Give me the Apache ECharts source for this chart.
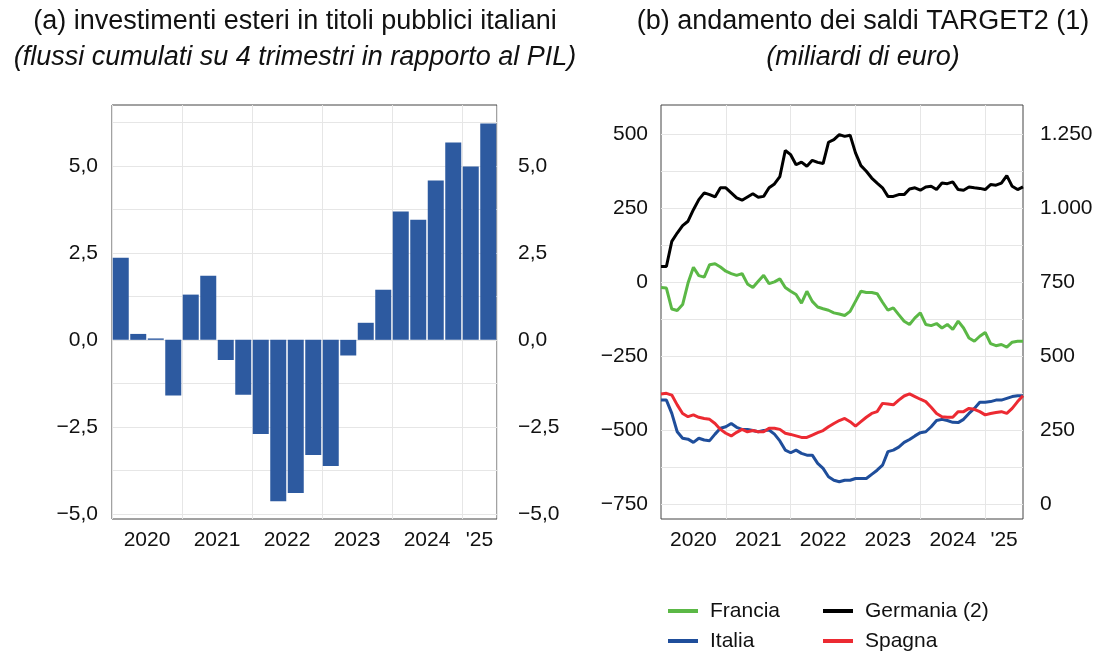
<!DOCTYPE html>
<html>
<head>
<meta charset="utf-8">
<script src="https://cdn.jsdelivr.net/npm/echarts@6/dist/echarts.min.js"></script>
<style>
  html, body { margin: 0; padding: 0; background: #fff; }
  #chart { width: 1093px; height: 651px; }
</style>
</head>
<body>
<div id="chart"></div>
<script>
// (a) investimenti esteri, trimestrale 2020Q1 - 2025Q2
const quarters = [
  '2020Q1', '2020Q2', '2020Q3', '2020Q4', '2021Q1', '2021Q2', '2021Q3', '2021Q4',
  '2022Q1', '2022Q2', '2022Q3', '2022Q4', '2023Q1', '2023Q2', '2023Q3', '2023Q4',
  '2024Q1', '2024Q2', '2024Q3', '2024Q4', '2025Q1', '2025Q2'
];
const foreignInv = [
  2.36, 0.17, 0.04, -1.60, 1.30, 1.84, -0.58, -1.58,
  -2.71, -4.64, -4.40, -3.31, -3.63, -0.45, 0.49, 1.44,
  3.69, 3.45, 4.58, 5.67, 4.98, 6.22
];
const barLabelAt = ['2020Q2', '2021Q2', '2022Q2', '2023Q2', '2024Q2', '2025Q1'];
const barYearLabels = ['2020', '2021', '2022', '2023', '2024', "'25"];
const barGridVals = [-5, -3.75, -2.5, -1.25, 0, 1.25, 2.5, 3.75, 5, 6.25];
const barLabelVals = [-5, -2.5, 0, 2.5, 5];

// (b) saldi TARGET2, mensili, fine dic 2019 - fine lug 2025 (miliardi)
const t2Start = 2020;
const francia = [
  -17, -19, -90, -95, -75, -2, 51, 23, 18, 60, 63, 52, 38, 30, 24, 30, -5, -17, 4, 24, -4, 2, 12,
  -17, -30, -41, -70, -30, -64, -83, -89, -94, -103, -107, -112, -98, -64, -30, -34, -34, -38, -67, -94, -86, -109,
  -131, -142, -120, -103, -142, -146, -139, -154, -142, -159, -131, -154, -188, -199, -182, -169, -207, -214, -210, -219, -202, -199, -199
];
const germania = [
  804, 804, 889, 917, 942, 957, 996, 1030, 1053, 1047, 1039, 1070, 1070, 1053, 1036, 1028, 1039, 1050, 1038, 1041, 1070, 1083, 1108,
  1196, 1182, 1148, 1157, 1143, 1163, 1156, 1152, 1224, 1233, 1250, 1244, 1248, 1188, 1145, 1126, 1103, 1086, 1070, 1041, 1041, 1047,
  1047, 1066, 1070, 1062, 1073, 1075, 1064, 1086, 1084, 1090, 1064, 1062, 1073, 1070, 1068, 1064, 1081, 1079, 1086, 1111, 1075, 1064, 1073
];
const italia = [
  -398, -398, -443, -505, -527, -530, -541, -527, -533, -535, -513, -493, -488, -477, -490, -497, -497, -501, -505, -501, -499, -513, -536,
  -567, -576, -567, -578, -584, -584, -612, -629, -657, -669, -674, -669, -669, -663, -663, -663, -649, -635, -618, -572, -567, -557,
  -541, -531, -519, -508, -505, -488, -467, -463, -467, -473, -474, -463, -443, -426, -405, -405, -403, -398, -398, -392, -386, -383, -383
];
const spagna = [
  -377, -375, -381, -414, -443, -454, -448, -456, -460, -463, -477, -497, -510, -519, -507, -497, -505, -501, -505, -505, -493, -493, -497,
  -510, -514, -519, -524, -524, -516, -508, -501, -488, -477, -467, -460, -471, -486, -471, -456, -443, -437, -409, -411, -414, -398,
  -384, -377, -386, -395, -403, -422, -443, -454, -456, -456, -437, -437, -426, -429, -437, -448, -443, -440, -437, -443, -426, -403, -383
];
const t2Years = [2020, 2021, 2022, 2023, 2024, 2025];
const t2GridVals = [-750, -625, -500, -375, -250, -125, 0, 125, 250, 375, 500];
const t2LabelVals = [-750, -500, -250, 0, 250, 500];
const gerLabelVals = [0, 250, 500, 750, 1000, 1250];

const FONT = '"Liberation Sans", Arial, Helvetica, sans-serif';
const TXT = '#111';
const GRIDC = '#e6e6e6';
const FS = 21;
const TITLE_FS = 27;

const t2End = t2Start + (francia.length - 1) / 12;
const toPoints = arr => arr.map((v, i) => [t2Start + i / 12, v]);
const minus = s => s.replace('-', '\u2212');
const fmtBar = v => minus(v.toFixed(1).replace('.', ','));
const fmtThousands = v => String(v).replace(/\B(?=(\d{3})+(?!\d))/g, '.');

// label of each year centred on its visible span
const t2LabelPos = t2Years.map(y => (y + Math.min(y + 1, t2End)) / 2);

const labelStyle = { color: TXT, fontSize: FS, fontFamily: FONT };
const legendText = { fontFamily: FONT, fontSize: FS, color: TXT, lineHeight: 22, padding: [0, 0, 0, 7] };

const chart = echarts.init(document.getElementById('chart'));

const option = {
  animation: false,
  title: [
    {
      text: '(a) investimenti esteri in titoli pubblici italiani',
      subtext: '(flussi cumulati su 4 trimestri in rapporto al PIL)',
      left: 290, top: 3, textAlign: 'center', itemGap: 9,
      textStyle: { fontFamily: FONT, fontSize: TITLE_FS, fontWeight: 'normal', color: TXT },
      subtextStyle: { fontFamily: FONT, fontSize: TITLE_FS, fontStyle: 'italic', color: TXT }
    },
    {
      text: '(b) andamento dei saldi TARGET2 (1)',
      subtext: '(miliardi di euro)',
      left: 858, top: 3, textAlign: 'center', itemGap: 9,
      textStyle: { fontFamily: FONT, fontSize: TITLE_FS, fontWeight: 'normal', color: TXT },
      subtextStyle: { fontFamily: FONT, fontSize: TITLE_FS, fontStyle: 'italic', color: TXT }
    }
  ],
  legend: [
    {
      data: ['Francia', 'Italia'], orient: 'vertical', left: 668, top: 600, height: 80, padding: 0,
      icon: 'rect', itemWidth: 30, itemHeight: 4, itemGap: 8, textStyle: legendText
    },
    {
      data: ['Germania (2)', 'Spagna'], orient: 'vertical', left: 823, top: 600, height: 80, padding: 0,
      icon: 'rect', itemWidth: 30, itemHeight: 4, itemGap: 8, textStyle: legendText
    }
  ],
  grid: [
    { left: 112, right: 596, top: 105, bottom: 132, show: true, borderColor: '#444', borderWidth: 1, outerBoundsMode: 'none' },
    { left: 661, right: 70, top: 105, bottom: 132, show: true, borderColor: '#444', borderWidth: 1, outerBoundsMode: 'none' }
  ],
  xAxis: [
    {
      type: 'category', gridIndex: 0, data: quarters, boundaryGap: true,
      axisLine: { show: false }, axisTick: { show: false },
      splitLine: { show: true, interval: i => i % 4 === 0, lineStyle: { color: GRIDC, width: 1 } },
      axisLabel: {
        interval: 0, margin: 11,
        formatter: v => {
          const i = barLabelAt.indexOf(v);
          return i < 0 ? '' : '{y|' + barYearLabels[i] + '}';
        },
        rich: { y: { color: TXT, fontSize: FS, fontFamily: FONT, padding: [0, 0, 0, 17.5] } }
      }
    },
    {
      type: 'value', gridIndex: 1, min: t2Start, max: t2End,
      axisLine: { show: false },
      axisTick: { show: false, customValues: t2Years.slice(1) },
      splitLine: { show: true, lineStyle: { color: GRIDC, width: 1 } },
      axisLabel: Object.assign({}, labelStyle, {
        margin: 11, customValues: t2LabelPos,
        formatter: v => {
          const y = Math.floor(v);
          return y === 2025 ? "'25" : String(y);
        }
      })
    }
  ],
  yAxis: [
    {
      type: 'value', gridIndex: 0, position: 'left', min: -5.15, max: 6.75,
      axisLine: { show: false },
      axisTick: { show: false, customValues: barGridVals },
      splitLine: { show: true, lineStyle: { color: GRIDC, width: 1 } },
      axisLabel: Object.assign({}, labelStyle, { margin: 14, customValues: barLabelVals, formatter: fmtBar })
    },
    {
      type: 'value', gridIndex: 0, position: 'right', min: -5.15, max: 6.75,
      axisLine: { show: false },
      axisTick: { show: false, customValues: barGridVals },
      splitLine: { show: false },
      axisLabel: Object.assign({}, labelStyle, { margin: 21, customValues: barLabelVals, formatter: fmtBar })
    },
    {
      type: 'value', gridIndex: 1, position: 'left', min: -800, max: 600,
      axisLine: { show: false },
      axisTick: { show: false, customValues: t2GridVals },
      splitLine: { show: true, lineStyle: { color: GRIDC, width: 1 } },
      axisLabel: Object.assign({}, labelStyle, { margin: 13, customValues: t2LabelVals, formatter: v => minus(String(v)) })
    },
    {
      type: 'value', gridIndex: 1, position: 'right', min: -50, max: 1350,
      axisLine: { show: false },
      axisTick: { show: false, customValues: gerLabelVals },
      splitLine: { show: false },
      axisLabel: Object.assign({}, labelStyle, { margin: 17, customValues: gerLabelVals, formatter: fmtThousands })
    }
  ],
  series: [
    {
      name: 'investimenti esteri', type: 'bar', xAxisIndex: 0, yAxisIndex: 0,
      data: foreignInv, barWidth: 16, itemStyle: { color: '#2D5AA0' }, silent: true
    },
    {
      name: 'Francia', type: 'line', xAxisIndex: 1, yAxisIndex: 2, data: toPoints(francia),
      showSymbol: false, color: '#5BB846', lineStyle: { width: 3, color: '#5BB846' }
    },
    {
      name: 'Germania (2)', type: 'line', xAxisIndex: 1, yAxisIndex: 3, data: toPoints(germania),
      showSymbol: false, color: '#000', lineStyle: { width: 3, color: '#000' }
    },
    {
      name: 'Italia', type: 'line', xAxisIndex: 1, yAxisIndex: 2, data: toPoints(italia),
      showSymbol: false, color: '#1F4E9B', lineStyle: { width: 3, color: '#1F4E9B' }
    },
    {
      name: 'Spagna', type: 'line', xAxisIndex: 1, yAxisIndex: 2, data: toPoints(spagna),
      showSymbol: false, color: '#EC2A32', lineStyle: { width: 3, color: '#EC2A32' }
    }
  ]
};

chart.setOption(option);
window.addEventListener('resize', chart.resize);
</script>
</body>
</html>
